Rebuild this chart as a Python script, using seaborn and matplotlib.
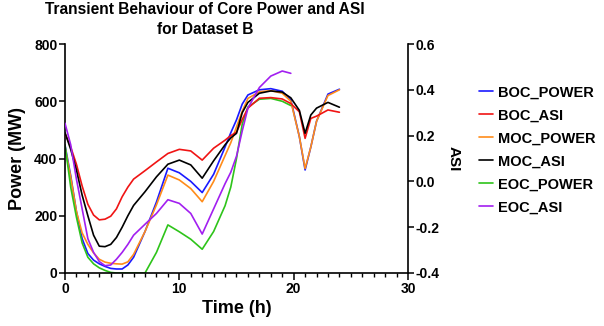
import numpy as np
import pandas as pd
import seaborn as sns
import matplotlib.pyplot as plt
from matplotlib.ticker import MultipleLocator, FormatStrFormatter

# values
time_h = [0, 0.5, 1, 1.5, 2, 2.5, 3, 3.5, 4, 4.5, 5, 5.5, 6, 7, 8, 9, 10, 11, 12, 13, 14,
          14.5, 15, 15.5, 16, 17, 18, 19, 19.75, 20.5, 21, 21.5, 22, 23, 24]

boc_power = [447, 340, 215, 120, 68, 45, 32, 23, 16, 14, 14, 28, 55, 145, 248, 366, 350, 320, 281, 345, 440,
             490, 535, 590, 622, 640, 644, 635, 605, 476, 360, 440, 530, 625, 642]
moc_power = [440, 335, 215, 140, 100, 70, 48, 38, 34, 32, 31, 39, 65, 145, 238, 342, 325, 295, 249, 320, 410,
             455, 510, 565, 610, 633, 637, 628, 600, 476, 365, 440, 530, 620, 640]
eoc_power = [447, 300, 195, 105, 55, 32, 18, 9, 2, 0, 0, 0, 0, 0, 72, 168, 144, 118, 83, 145, 235,
             300, 400, 520, 580, 607, 610, 600, 585] + [np.nan] * 6

boc_asi = [0.21, 0.15, 0.075, -0.02, -0.10, -0.147, -0.168, -0.165, -0.152, -0.12, -0.067, -0.025, 0.01,
           0.047, 0.085, 0.122, 0.14, 0.133, 0.093, 0.145, 0.18,
           0.20, 0.215, 0.27, 0.32, 0.363, 0.366, 0.36, 0.34, 0.304, 0.188, 0.275, 0.285, 0.312, 0.302]
moc_asi = [0.213, 0.14, 0.05, -0.06, -0.15, -0.235, -0.283, -0.285, -0.275, -0.245, -0.2, -0.15, -0.105,
           -0.045, 0.02, 0.075, 0.093, 0.072, 0.014, 0.09, 0.16,
           0.19, 0.21, 0.3, 0.345, 0.385, 0.395, 0.39, 0.365, 0.31, 0.21, 0.29, 0.32, 0.345, 0.324]
eoc_asi = [0.254, 0.16, 0.01, -0.12, -0.25, -0.31, -0.35, -0.368, -0.365, -0.34, -0.31, -0.275, -0.235,
           -0.187, -0.14, -0.08, -0.096, -0.14, -0.23, -0.12, -0.01,
           0.04, 0.11, 0.22, 0.32, 0.41, 0.46, 0.482, 0.472] + [np.nan] * 6

colors = {"BOC_POWER": "#1a1aff", "BOC_ASI": "#f01414", "MOC_POWER": "#ff8c1a",
          "MOC_ASI": "#000000", "EOC_POWER": "#2ec41a", "EOC_ASI": "#a21ff0"}
legend_order = ["BOC_POWER", "BOC_ASI", "MOC_POWER", "MOC_ASI", "EOC_POWER", "EOC_ASI"]

power_df = pd.DataFrame({"time": time_h * 3,
                         "value": boc_power + moc_power + eoc_power,
                         "series": ["BOC_POWER"] * 35 + ["MOC_POWER"] * 35 + ["EOC_POWER"] * 35}).dropna()
asi_df = pd.DataFrame({"time": time_h * 3,
                       "value": boc_asi + moc_asi + eoc_asi,
                       "series": ["BOC_ASI"] * 35 + ["MOC_ASI"] * 35 + ["EOC_ASI"] * 35}).dropna()

sns.set_style("ticks", {"axes.edgecolor": "black", "text.color": "black",
                        "xtick.color": "black", "ytick.color": "black",
                        "axes.labelcolor": "black"})
plt.rcParams['font.family'] = ['Liberation Sans', 'DejaVu Sans']
plt.rcParams['font.weight'] = 'bold'
plt.rcParams['axes.unicode_minus'] = False

fig = plt.figure(figsize=(6.04, 3.26), dpi=100)
ax = fig.add_axes([0.1076, 0.1626, 0.5679, 0.7024])
ax2 = ax.twinx()

sns.lineplot(data=power_df, x="time", y="value", hue="series", palette=colors,
             ax=ax, legend=False, linewidth=1.2, estimator=None, sort=False)
sns.lineplot(data=asi_df, x="time", y="value", hue="series", palette=colors,
             ax=ax2, legend=False, linewidth=1.2, estimator=None, sort=False)

ax.set_xlim(0, 30)
ax.set_ylim(0, 800)
ax2.set_ylim(-0.4, 0.6)
ax.xaxis.set_major_locator(MultipleLocator(10))
ax.xaxis.set_minor_locator(MultipleLocator(1))
ax.yaxis.set_major_locator(MultipleLocator(200))
ax2.yaxis.set_major_locator(MultipleLocator(0.2))
ax2.yaxis.set_major_formatter(FormatStrFormatter('%.1f'))

for a in (ax, ax2):
    for s in a.spines.values():
        s.set_linewidth(1.2)
        s.set_color("black")
    a.spines['top'].set_visible(False)
    a.tick_params(axis='both', which='both', colors='black')
    a.tick_params(axis='both', which='major', labelsize=10, width=1.1, length=4, pad=1.5)
    for lbl in a.get_xticklabels() + a.get_yticklabels():
        lbl.set_fontweight('bold')
ax.spines['right'].set_visible(False)
ax2.spines['left'].set_visible(False)
ax2.spines['bottom'].set_visible(False)
ax.tick_params(axis='x', which='major', length=5)
ax.tick_params(axis='x', which='minor', length=3, width=1.0)

ax.set_xlabel("Time (h)", fontsize=13, fontweight='bold', labelpad=3, color='black')
ax.set_ylabel("Power (MW)", fontsize=13, fontweight='bold', labelpad=6, color='black')
ax2.set_ylabel("ASI", fontsize=11, fontweight='bold', rotation=270, labelpad=15, color='black')
ax.set_title("Transient Behaviour of Core Power and ASI\nfor Dataset B", x=0.408,
             fontsize=11.2, fontweight='bold', pad=7, linespacing=1.42, color='black')

handles = [plt.Line2D([], [], color=colors[k], linewidth=1.2) for k in legend_order]
fig.legend(handles, legend_order, loc='center left', bbox_to_anchor=(0.772, 0.54),
           frameon=False, handlelength=0.9, handletextpad=0.35,
           labelspacing=0.62, prop={'weight': 'bold', 'size': 10.5})

plt.savefig("out.png", dpi=100)
